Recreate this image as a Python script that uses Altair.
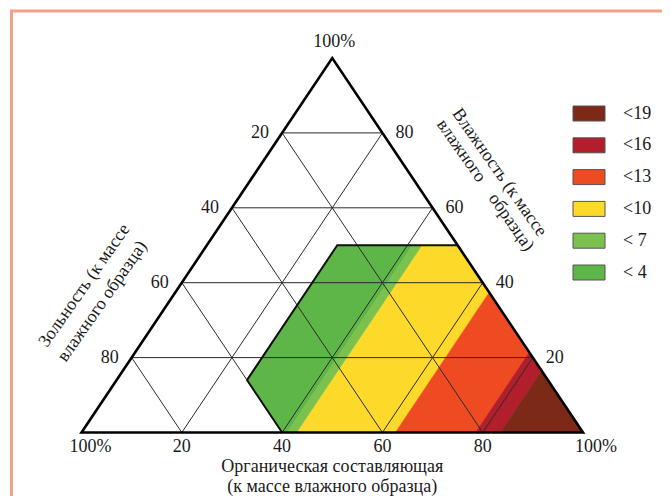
import altair as alt
import pandas as pd

# ---------------- data ----------------
grid_levels = [20, 40, 60, 80]
grid_labels = ["20", "40", "60", "80"]
corner_label = "100%"

band_names = ["< 4", "< 7", "<10", "<13", "<16", "<19"]
band_colors = ["#5db647", "#7bc14e", "#fdd929", "#ee4b23", "#b21e2c", "#7c2917"]
band_organic_edges = [26, 41, 43, 62.6, 78.6, 83.5, 100]  # organic %, limits of the bands
zone_moisture_max = 50
zone_ash_max = 60

legend_labels = band_names[::-1]
legend_colors = band_colors[::-1]

axis_bottom_title = ["Органическая составляющая", "(к массе влажного образца)"]
axis_left_title = ["Зольность (к массе", "влажного образца)"]
axis_right_title = ["Влажность (к массе", "влажного\u00a0\u00a0\u00a0 образца)"]

FONT = "Liberation Serif"
FS = 18
TXT = "#1a1a1a"

# ---------------- helpers ----------------
xs = alt.Scale(domain=[0, 100], range=[73.5, 575], nice=False, zero=False)
ys = alt.Scale(domain=[0, 100], range=[424.5, 50], nice=False, zero=False)


def ex(f):
    return alt.X(f, type="quantitative", scale=xs, axis=None)


def ey(f):
    return alt.Y(f, type="quantitative", scale=ys, axis=None)


def to_xy(o, m):
    # ternary (organic, moisture) -> plane coordinates
    return o + m / 2.0, m


def clip(poly, a, b, c):
    # keep a*o + b*m <= c
    out = []
    n = len(poly)
    for i in range(n):
        p, q = poly[i], poly[(i + 1) % n]
        fp = a * p[0] + b * p[1] - c
        fq = a * q[0] + b * q[1] - c
        if fp <= 0:
            out.append(p)
        if (fp < 0 < fq) or (fq < 0 < fp):
            t = fp / (fp - fq)
            out.append((p[0] + t * (q[0] - p[0]), p[1] + t * (q[1] - p[1])))
    return out


triangle_om = [(0, 0), (100, 0), (0, 100)]

layers = []

# ---------------- coloured bands ----------------
for i, name in enumerate(band_names):
    o1, o2 = band_organic_edges[i], band_organic_edges[i + 1]
    poly = triangle_om
    poly = clip(poly, -1, 0, -o1)
    poly = clip(poly, 1, 0, o2)
    poly = clip(poly, 0, 1, zone_moisture_max)
    poly = clip(poly, -1, -1, -(100 - zone_ash_max))
    rows = []
    for k, (o, m) in enumerate(poly):
        x, y = to_xy(o, m)
        rows.append({"x": x, "y": y, "k": k})
    df = pd.DataFrame(rows)
    layers.append(
        alt.Chart(df)
        .mark_line(fill=band_colors[i], stroke=band_colors[i], strokeWidth=0.6,
                   interpolate="linear-closed")
        .encode(x=ex("x"), y=ey("y"), order="k:Q")
    )

# ---------------- grid ----------------
seg = []
for L in grid_levels:
    for (o1, m1, o2, m2) in [(0, L, 100 - L, L), (L, 0, L, 100 - L), (100 - L, 0, 0, 100 - L)]:
        x1, y1 = to_xy(o1, m1)
        x2, y2 = to_xy(o2, m2)
        seg.append({"x": x1, "y": y1, "x2": x2, "y2": y2})
grid = (
    alt.Chart(pd.DataFrame(seg))
    .mark_rule(color="#2b2b2b", strokeWidth=1)
    .encode(x=ex("x"), y=ey("y"), x2="x2:Q", y2="y2:Q")
)
layers.append(grid)

# ---------------- zone outline ----------------
o_left = band_organic_edges[0]
ash_o = 100 - zone_ash_max
zone_pts = [(ash_o, 0), (o_left, ash_o - o_left), (o_left, zone_moisture_max),
            (100 - zone_moisture_max, zone_moisture_max)]
zdf = pd.DataFrame([{"x": to_xy(o, m)[0], "y": to_xy(o, m)[1], "k": k}
                    for k, (o, m) in enumerate(zone_pts)])
layers.append(
    alt.Chart(zdf).mark_line(color="#111", strokeWidth=2, strokeJoin="miter")
    .encode(x=ex("x"), y=ey("y"), order="k:Q")
)

# ---------------- triangle outline ----------------
tdf = pd.DataFrame([{"x": to_xy(o, m)[0], "y": to_xy(o, m)[1], "k": k}
                    for k, (o, m) in enumerate(triangle_om)])
layers.append(
    alt.Chart(tdf).mark_line(color="#000", strokeWidth=2.6, strokeJoin="miter",
                             interpolate="linear-closed")
    .encode(x=ex("x"), y=ey("y"), order="k:Q")
)

# ---------------- tick labels ----------------
left_df = pd.DataFrame([{"x": to_xy(0, 100 - L)[0], "y": to_xy(0, 100 - L)[1], "t": t}
                        for L, t in zip(grid_levels, grid_labels)])
right_df = pd.DataFrame([{"x": to_xy(100 - L, L)[0], "y": to_xy(100 - L, L)[1], "t": t}
                         for L, t in zip(grid_levels, grid_labels)])
bottom_df = pd.DataFrame([{"x": to_xy(L, 0)[0], "y": 0, "t": t}
                          for L, t in zip(grid_levels, grid_labels)])

txt = dict(font=FONT, fontSize=FS, color=TXT, baseline="middle")
layers.append(alt.Chart(left_df).mark_text(align="right", dx=-13, **txt)
              .encode(x=ex("x"), y=ey("y"), text="t:N"))
layers.append(alt.Chart(right_df).mark_text(align="left", dx=13, **txt)
              .encode(x=ex("x"), y=ey("y"), text="t:N"))
layers.append(alt.Chart(bottom_df).mark_text(align="center", dy=14.5, **txt)
              .encode(x=ex("x"), y=ey("y"), text="t:N"))

one = lambda o, m, t: pd.DataFrame([{"x": to_xy(o, m)[0], "y": to_xy(o, m)[1], "t": t}])
layers.append(alt.Chart(one(0, 0, corner_label)).mark_text(align="center", dx=9, dy=14.5, **txt)
              .encode(x=ex("x"), y=ey("y"), text="t:N"))
layers.append(alt.Chart(one(100, 0, corner_label)).mark_text(align="center", dx=13, dy=14.5, **txt)
              .encode(x=ex("x"), y=ey("y"), text="t:N"))
layers.append(alt.Chart(one(0, 100, corner_label)).mark_text(align="center", dx=2, dy=-16, **txt)
              .encode(x=ex("x"), y=ey("y"), text="t:N"))

# ---------------- axis titles ----------------
bt = pd.DataFrame([{"x": 50, "y": 0, "t": axis_bottom_title[0]}])
bt2 = pd.DataFrame([{"x": 50, "y": 0, "t": axis_bottom_title[1]}])
layers.append(alt.Chart(bt).mark_text(align="center", dy=34.5, **txt)
              .encode(x=ex("x"), y=ey("y"), text="t:N"))
layers.append(alt.Chart(bt2).mark_text(align="center", dy=54.5, **txt)
              .encode(x=ex("x"), y=ey("y"), text="t:N"))

lt = pd.DataFrame([{"x": 0.6, "y": 39.2, "t": axis_left_title[0]},
                   {"x": 4.2, "y": 35.0, "t": axis_left_title[1]}])
layers.append(alt.Chart(lt).mark_text(align="center", angle=305, **txt)
              .encode(x=ex("x"), y=ey("y"), text="t:N"))

rt = pd.DataFrame([{"x": 83.3, "y": 69.4, "t": axis_right_title[0]},
                   {"x": 80.5, "y": 66.0, "t": axis_right_title[1]}])
layers.append(alt.Chart(rt).mark_text(align="center", angle=55, **txt)
              .encode(x=ex("x"), y=ey("y"), text="t:N"))

# ---------------- legend ----------------
leg = pd.DataFrame({
    "lab": legend_labels,
    "col": legend_colors,
    "i": list(range(len(legend_labels))),
})
leg["x1"] = 565
leg["x2"] = 597
leg["y1"] = 98 + leg["i"] * 31.8
leg["y2"] = leg["y1"] + 15
leg["ty"] = leg["y1"] + 7.5
leg["tx"] = 615
layers.append(
    alt.Chart(leg).mark_rect(stroke="#555", strokeWidth=1)
    .encode(x=alt.X("x1:Q", scale=None), x2="x2:Q",
            y=alt.Y("y1:Q", scale=None), y2="y2:Q",
            fill=alt.Fill("col:N", scale=None))
)
layers.append(
    alt.Chart(leg).mark_text(align="left", **txt)
    .encode(x=alt.X("tx:Q", scale=None), y=alt.Y("ty:Q", scale=None), text="lab:N")
)

# ---------------- frame ----------------
frame = (
    alt.Chart(pd.DataFrame([{"a": 1}]))
    .mark_rect(fillOpacity=0, stroke="#f4a189", strokeWidth=3)
    .encode(x=alt.value(3.5), x2=alt.value(700), y=alt.value(3), y2=alt.value(700))
)
layers.append(frame)

chart = (
    alt.layer(*layers)
    .properties(width=654, height=488, padding=0, autosize="none", background="white")
    .configure_view(stroke=None)
)

chart.save("out.html", embed_options={"renderer": "svg", "actions": False})
